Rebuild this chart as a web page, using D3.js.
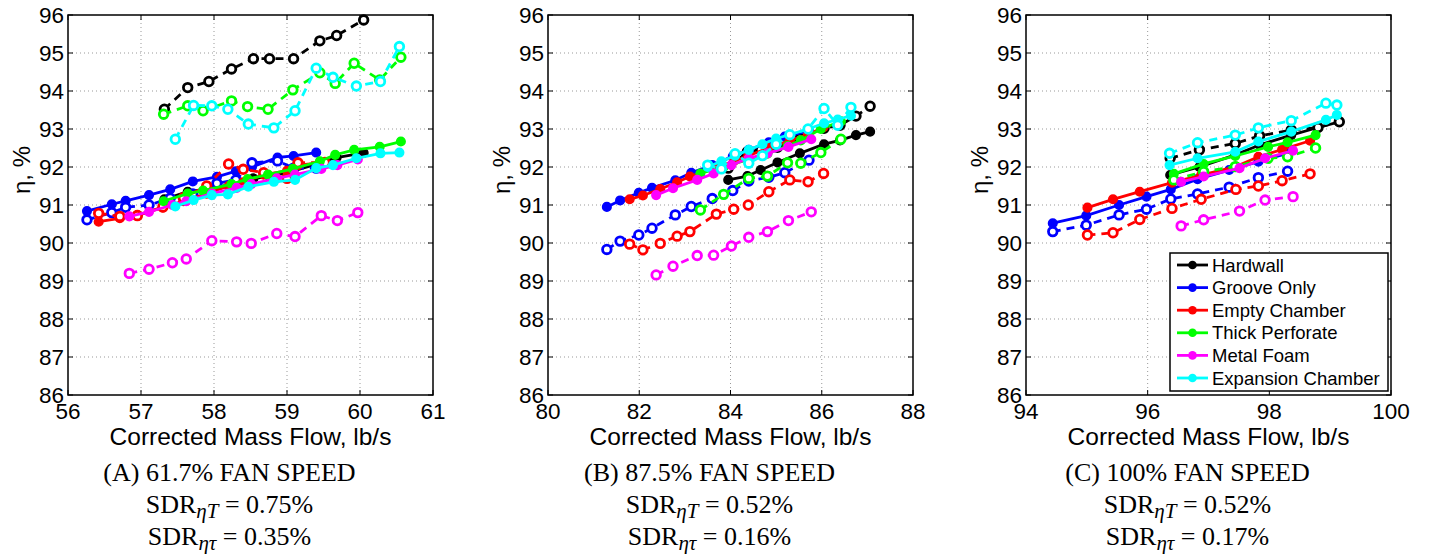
<!DOCTYPE html>
<html>
<head>
<meta charset="utf-8">
<script src="https://cdn.jsdelivr.net/npm/d3@7"></script>
<style>
body{margin:0;background:#fff;}
svg{display:block;}
</style>
</head>
<body>
<script>
// configurations (legend order) and their colours
var configs = ["Hardwall","Groove Only","Empty Chamber","Thick Perforate","Metal Foam","Expansion Chamber"];
var colors = ["#000000","#0000ff","#ff0000","#00ff00","#ff00ff","#00ffff"];

// (A) 61.7% fan speed: corrected mass flow, eta_T (solid), eta_tau (dashed)
var flowA = [
	[57.32,57.64,57.93,58.24,58.54,58.76,59.09,59.45,59.68,60.05],
	[56.26,56.6,56.79,57.11,57.4,57.71,58.04,58.3,58.52,58.87,59.09,59.4],
	[56.42,56.71,56.95,57.3,57.58,57.9,58.2,58.4,58.68,59.0,59.15,59.52],
	[57.31,57.64,57.85,58.24,58.46,58.74,59.08,59.45,59.66,59.92,60.27,60.56],
	[56.84,57.11,57.43,57.62,57.97,58.31,58.51,58.86,59.11,59.47,59.69,59.97],
	[57.47,57.72,57.97,58.19,58.47,58.82,59.11,59.4,59.63,59.95,60.28,60.54]
];
var etaTA = [
	[91.15,91.35,91.42,91.55,91.7,91.75,91.9,92.1,92.25,92.37],
	[90.84,91.02,91.11,91.26,91.41,91.62,91.74,91.89,92.0,92.25,92.29,92.38],
	[90.56,90.65,90.74,90.93,91.1,91.3,91.5,91.6,91.8,91.9,92.05,92.12],
	[91.1,91.3,91.38,91.55,91.68,91.8,91.95,92.15,92.32,92.45,92.53,92.67],
	[90.7,90.82,91.0,91.1,91.3,91.45,91.55,91.7,91.8,91.95,92.05,92.2],
	[90.96,91.13,91.26,91.28,91.48,91.61,91.66,91.97,92.05,92.23,92.36,92.38]
];
var etaTauA = [
	[93.52,94.09,94.25,94.58,94.85,94.85,94.85,95.32,95.46,95.87],
	[90.61,90.8,90.94,91.0,91.18,91.29,91.57,91.66,92.11,92.16,91.97,91.97],
	[90.78,90.7,90.72,90.95,91.19,91.5,92.08,91.94,91.85,91.7,92.11,92.12],
	[93.39,93.61,93.48,93.74,93.59,93.52,94.03,94.48,94.2,94.73,94.29,94.89],
	[89.2,89.31,89.48,89.58,90.06,90.03,89.99,90.25,90.17,90.72,90.59,90.8],
	[92.73,93.62,93.61,93.52,93.13,93.03,93.48,94.6,94.36,94.13,94.25,95.17]
];

// (B) 87.5% fan speed
var flowB = [
	[83.95,84.37,84.66,85.03,85.52,86.05,86.4,86.75,87.06],
	[81.29,81.58,81.99,82.28,82.79,83.14,83.6,84.05,84.4,84.84,85.19,85.72],
	[81.79,82.08,82.46,82.83,83.11,83.69,84.07,84.39,84.84,85.3,85.7,86.04],
	[83.34,83.85,84.4,84.81,85.25,85.54,85.98,86.42],
	[82.37,82.74,83.27,83.63,84.02,84.4,84.81,85.27,85.77],
	[83.5,83.8,84.1,84.4,84.7,85.0,85.3,85.7,86.05,86.35,86.64]
];
var etaTB = [
	[91.66,91.76,91.92,92.12,92.36,92.6,92.7,92.84,92.93],
	[90.95,91.12,91.32,91.45,91.65,91.85,92.05,92.28,92.45,92.65,92.8,92.95],
	[91.15,91.25,91.42,91.6,91.75,91.98,92.15,92.3,92.5,92.7,92.85,93.05],
	[91.83,92.0,92.2,92.35,92.55,92.7,93.0,93.2],
	[91.26,91.44,91.66,91.83,92.05,92.23,92.36,92.53,92.73],
	[92.0,92.15,92.3,92.45,92.6,92.75,92.85,93.0,93.15,93.25,93.35]
];
var etaTauB = [
	[91.97,92.4,92.45,92.52,92.75,93.02,93.1,93.34,93.6],
	[89.83,90.05,90.21,90.39,90.74,90.96,91.17,91.38,91.63,91.73,91.85,92.18],
	[89.97,89.82,89.99,90.18,90.3,90.76,90.89,91.0,91.35,91.66,91.61,91.83],
	[90.87,91.28,91.7,91.76,92.11,92.1,92.38,92.73],
	[89.16,89.39,89.67,89.68,89.92,90.15,90.3,90.59,90.82],
	[92.05,91.95,92.35,92.1,92.3,92.6,92.85,93.0,93.54,93.1,93.57]
];

// (C) 100% fan speed
var flowC = [
	[96.37,96.85,97.44,97.84,98.36,98.8,99.15],
	[94.44,94.99,95.53,95.98,96.38,96.82,97.34,97.82,98.3],
	[95.01,95.43,95.87,96.4,96.88,97.45,97.82,98.21,98.67],
	[96.43,96.92,97.44,97.98,98.3,98.76],
	[96.55,96.92,97.51,97.93,98.39],
	[96.36,96.82,97.44,97.82,98.36,98.93,99.11]
];
var etaTC = [
	[91.79,92.0,92.32,92.58,92.84,93.04,93.19],
	[90.52,90.72,91.0,91.22,91.41,91.68,91.92,92.14,92.36],
	[90.93,91.15,91.35,91.59,91.79,92.01,92.27,92.46,92.69],
	[91.82,92.08,92.29,92.53,92.65,92.84],
	[91.61,91.75,91.97,92.23,92.43],
	[92.05,92.23,92.4,92.67,92.93,93.24,93.37]
];
var etaTauC = [
	[92.23,92.45,92.62,92.82,92.97,93.04,93.19],
	[90.3,90.47,90.74,90.89,91.16,91.29,91.47,91.72,91.89],
	[90.21,90.27,90.62,90.91,91.15,91.41,91.5,91.64,91.82],
	[91.66,91.88,92.01,92.23,92.27,92.5],
	[90.45,90.61,90.84,91.13,91.22],
	[92.36,92.64,92.84,93.03,93.22,93.68,93.63]
];

var yTicks = [86,87,88,89,90,91,92,93,94,95,96];
var xTicksA = [56,57,58,59,60,61];
var xTicksB = [80,82,84,86,88];
var xTicksC = [94,96,98,100];
var captions = ["(A) 61.7% FAN SPEED","(B) 87.5% FAN SPEED","(C) 100% FAN SPEED"];
var sdrT = ["0.75%","0.52%","0.52%"];
var sdrTau = ["0.35%","0.16%","0.17%"];

var w = 1429;
var h = 554;
var mt = 15;
var ph = 380;
var pw = 365;

var svg = d3.select("body")
			.append("svg")
			.attr("width",w)
			.attr("height",h);

var panels = [
	{left:68, flow:flowA, etaT:etaTA, etaTau:etaTauA, ticks:xTicksA},
	{left:548, flow:flowB, etaT:etaTB, etaTau:etaTauB, ticks:xTicksB},
	{left:1026, flow:flowC, etaT:etaTC, etaTau:etaTauC, ticks:xTicksC}
];

var sans = "'Liberation Sans', Arial, sans-serif";
var serif = "'Liberation Serif', 'Times New Roman', serif";

panels.forEach(function(p, pi){
	var xScale = d3.scaleLinear()
				.domain([p.ticks[0], p.ticks[p.ticks.length-1]])
				.range([p.left, p.left + pw]);
	var yScale = d3.scaleLinear()
				.domain([86,96])
				.range([mt + ph, mt]);

	var g = svg.append("g");

	// dotted grid
	g.selectAll(".gx").data(p.ticks.slice(1,-1)).enter()
		.append("line")
		.attr("x1", d=>xScale(d)).attr("x2", d=>xScale(d))
		.attr("y1", mt).attr("y2", mt+ph)
		.attr("stroke","#999").attr("stroke-width",1)
		.attr("stroke-dasharray","1,3");
	g.selectAll(".gy").data(yTicks.slice(1,-1)).enter()
		.append("line")
		.attr("y1", d=>yScale(d)).attr("y2", d=>yScale(d))
		.attr("x1", p.left).attr("x2", p.left+pw)
		.attr("stroke","#999").attr("stroke-width",1)
		.attr("stroke-dasharray","1,3");

	var line = d3.line()
				.x(function(d){return xScale(d[0]);})
				.y(function(d){return yScale(d[1]);});

	configs.forEach(function(c, ci){
		var solid = p.flow[ci].map((x,i)=>[x, p.etaT[ci][i]]);
		var dashed = p.flow[ci].map((x,i)=>[x, p.etaTau[ci][i]]);

		g.append("path")
			.datum(solid)
			.attr("d", line)
			.attr("fill","none")
			.attr("stroke",colors[ci])
			.attr("stroke-width",2.8);
		g.selectAll(null).data(solid).enter()
			.append("circle")
			.attr("cx", d=>xScale(d[0]))
			.attr("cy", d=>yScale(d[1]))
			.attr("r",4.3)
			.attr("fill",colors[ci])
			.attr("stroke",colors[ci])
			.attr("stroke-width",1.5);

		g.append("path")
			.datum(dashed)
			.attr("d", line)
			.attr("fill","none")
			.attr("stroke",colors[ci])
			.attr("stroke-width",2.8)
			.attr("stroke-dasharray","8,6");
		g.selectAll(null).data(dashed).enter()
			.append("circle")
			.attr("cx", d=>xScale(d[0]))
			.attr("cy", d=>yScale(d[1]))
			.attr("r",4.3)
			.attr("fill","#fff")
			.attr("stroke",colors[ci])
			.attr("stroke-width",2.8);
	});

	// box
	g.append("rect")
		.attr("x",p.left).attr("y",mt)
		.attr("width",pw).attr("height",ph)
		.attr("fill","none").attr("stroke","#000").attr("stroke-width",1.5);

	// inner tick marks on all four sides
	p.ticks.forEach(function(t){
		g.append("line").attr("x1",xScale(t)).attr("x2",xScale(t))
			.attr("y1",mt+ph).attr("y2",mt+ph-5).attr("stroke","#000");
		g.append("line").attr("x1",xScale(t)).attr("x2",xScale(t))
			.attr("y1",mt).attr("y2",mt+5).attr("stroke","#000");
	});
	yTicks.forEach(function(t){
		g.append("line").attr("y1",yScale(t)).attr("y2",yScale(t))
			.attr("x1",p.left).attr("x2",p.left+5).attr("stroke","#000");
		g.append("line").attr("y1",yScale(t)).attr("y2",yScale(t))
			.attr("x1",p.left+pw).attr("x2",p.left+pw-5).attr("stroke","#000");
	});

	// tick labels
	g.selectAll(".xl").data(p.ticks).enter()
		.append("text")
		.attr("x", d=>xScale(d))
		.attr("y", mt+ph+24)
		.attr("text-anchor","middle")
		.attr("font-family",sans)
		.attr("font-size",22.5)
		.text(d=>d);
	g.selectAll(".yl").data(yTicks).enter()
		.append("text")
		.attr("x", p.left-4)
		.attr("y", d=>yScale(d)+8)
		.attr("text-anchor","end")
		.attr("font-family",sans)
		.attr("font-size",22.5)
		.text(d=>d);

	// axis titles
	g.append("text")
		.attr("x", p.left+pw/2)
		.attr("y", 445)
		.attr("text-anchor","middle")
		.attr("font-family",sans)
		.attr("font-size",24.5)
		.text("Corrected Mass Flow, lb/s");
	g.append("text")
		.attr("x", p.left-38)
		.attr("y", 170)
		.attr("text-anchor","middle")
		.attr("font-family",sans)
		.attr("font-size",24)
		.attr("transform","rotate(-90,"+(p.left-38)+",170)")
		.text("\u03b7, %");

	// captions
	var cx = p.left + pw/2 - 21;
	g.append("text")
		.attr("x", cx).attr("y", 481)
		.attr("text-anchor","middle")
		.attr("font-family",serif)
		.attr("font-size",26)
		.text(captions[pi]);
	[[sdrT[pi],"T",513],[sdrTau[pi],"\u03c4",545]].forEach(function(s){
		var t = g.append("text")
			.attr("x", cx).attr("y", s[2])
			.attr("text-anchor","middle")
			.attr("font-family",serif)
			.attr("font-size",26);
		t.append("tspan").text("SDR");
		t.append("tspan").attr("dy",5).attr("font-size",21).attr("font-style","italic").text("\u03b7" + s[1]);
		t.append("tspan").attr("dy",-5).text(" = " + s[0]);
	});

	// legend in panel C
	if(pi === 2){
		var lg = svg.append("g");
		lg.append("rect")
			.attr("x",1170).attr("y",253)
			.attr("width",218).attr("height",138)
			.attr("fill","#fff").attr("stroke","#000").attr("stroke-width",1.5);
		configs.forEach(function(c, ci){
			var yy = 265 + ci*22.6;
			lg.append("line").attr("x1",1177).attr("x2",1208)
				.attr("y1",yy).attr("y2",yy)
				.attr("stroke",colors[ci]).attr("stroke-width",2.8);
			lg.append("circle").attr("cx",1192.5).attr("cy",yy).attr("r",4.3)
				.attr("fill",colors[ci]);
			lg.append("text").attr("x",1212).attr("y",yy+6.5)
				.attr("font-family",sans).attr("font-size",18.5)
				.text(c);
		});
	}
});
</script>
</body>
</html>
